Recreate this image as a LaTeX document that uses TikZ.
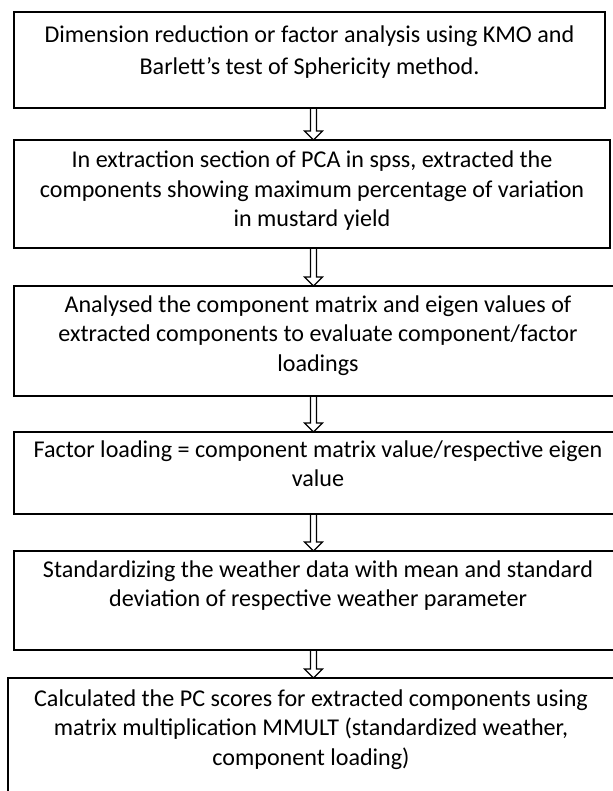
\documentclass[tikz,border=0pt]{standalone}
\usepackage{fontspec}
\setmainfont{Carlito}
\usepackage{tikz}
\usetikzlibrary{calc}
\tikzstyle{stepbox}=[draw,line width=1.6pt,inner sep=0pt,outer sep=0pt,anchor=north west]
\tikzstyle{steptext}=[align=center,anchor=base,inner sep=0pt,font=\fontsize{24.1}{29.5}\selectfont]
\tikzstyle{hollow}=[draw,line width=1.2pt,line join=miter]

\begin{document}
\begin{tikzpicture}[x=1pt,y=-1pt]
    \useasboundingbox (0,0) rectangle (612,791);
    \foreach \pos/\w/\h/\name in {{(14,12)/591/96/s1}, {(14,140)/596/108/s2}, {(14,286)/608/110/s3}, {(14,432)/608/82/s4}, {(14,551)/608/99/s5}, {(8,678)/606/130/s6}}
        \node[stepbox,minimum width=\w,minimum height=\h] (\name) at \pos {};
    % base of each text is its last line
    \node[steptext] (t1) at ($(s1.north)+(0,63)$) {Dimension reduction or factor analysis using KMO and\\[2.5pt] Barlett’s test of Sphericity method.};
    \node[steptext] (t2) at ($(s2.north)+(0,87)$) {In extraction section of PCA in spss, extracted the\\ components showing maximum percentage of variation\\ in mustard yield};
    \node[steptext] (t3) at ($(s3.north)+(0,85)$) {Analysed the component matrix and eigen values of\\ extracted components to evaluate component/factor\\ loadings};
    \node[steptext] (t4) at ($(s4.north)+(0,54.5)$) {Factor loading = component matrix value/respective eigen\\ value};
    \node[steptext] (t5) at ($(s5.north)+(0,55.5)$) {Standardizing the weather data with mean and standard\\ deviation of respective weather parameter};
    \node[steptext] (t6) at ($(s6.north)+(0,87)$) {Calculated the PC scores for extracted components using\\ matrix multiplication MMULT (standardized weather,\\ component loading)};
    % hollow arrows down the middle
    \coordinate (col) at (313.5,0);
    \foreach \source/\dest in {s1/s2,s2/s3,s3/s4,s4/s5,s5/s6}
        \path[hollow] ($(\source.south -| col)+(-3,0)$) -- ($(\dest.north -| col)+(-3,-9)$) -- ++(-6,0) -- (\dest.north -| col) -- ($(\dest.north -| col)+(9,-9)$) -- ++(-6,0) -- ($(\source.south -| col)+(3,0)$);
\end{tikzpicture}
\end{document}
